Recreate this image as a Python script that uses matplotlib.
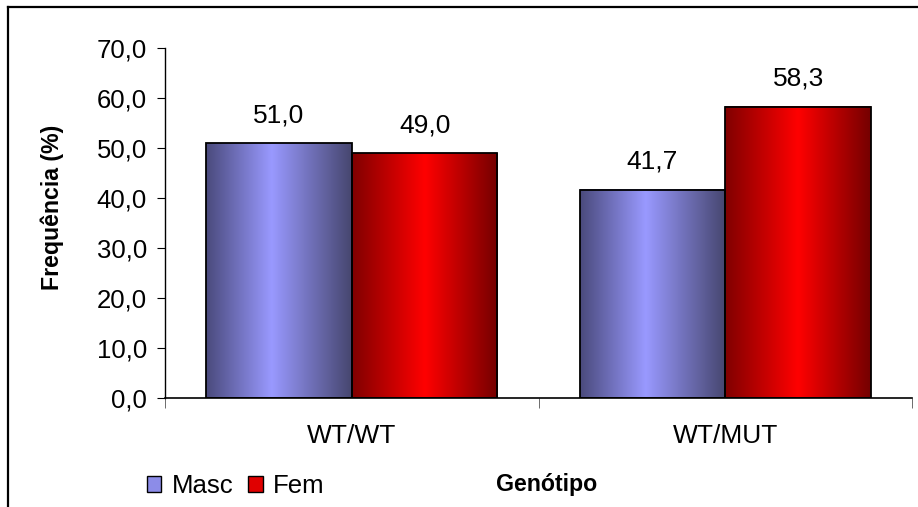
import numpy as np
import matplotlib
matplotlib.use("Agg")
import matplotlib.pyplot as plt
from matplotlib.colors import LinearSegmentedColormap
from matplotlib.patches import Patch
from matplotlib.ticker import FuncFormatter, FixedLocator

# ---------- DATA ----------
genotypes = ["WT/WT", "WT/MUT"]
masc = [51.0, 41.7]
fem = [49.0, 58.3]
series_names = ["Masc", "Fem"]

# ---------- STYLE ----------
plt.rcParams['font.family'] = ['Liberation Sans', 'DejaVu Sans']
FS = 19
FS_TICK = 18.5
FS_BOLD = 16.7
BAR_W = 0.39

masc_cmap = LinearSegmentedColormap.from_list(
    "masc", [(0.0, "#4a4a7c"), (0.45, "#9999ff"), (1.0, "#46466f")])
fem_cmap = LinearSegmentedColormap.from_list(
    "fem", [(0.0, "#800000"), (0.5, "#ff0000"), (1.0, "#740000")])

fig = plt.figure(figsize=(9.18, 5.07), dpi=100)
ax = fig.add_axes([165 / 918, 1 - 398 / 507, (912 - 165) / 918, (398 - 48) / 507])

grad = np.linspace(0, 1, 256).reshape(1, -1)
x = np.arange(len(genotypes))

def grad_bars(xpos, vals, cmap):
    bars = ax.bar(xpos, vals, BAR_W, facecolor='none', edgecolor='black',
                  linewidth=1.3, zorder=3)
    for b in bars:
        x0, y0 = b.get_x(), b.get_y()
        w, h = b.get_width(), b.get_height()
        ax.imshow(grad, cmap=cmap, aspect='auto', extent=(x0, x0 + w, y0, y0 + h),
                  zorder=2, interpolation='bicubic')
    return bars

b1 = grad_bars(x - BAR_W / 2, masc, masc_cmap)
b2 = grad_bars(x + BAR_W / 2, fem, fem_cmap)

for bars in (b1, b2):
    for b in bars:
        v = b.get_height()
        ax.annotate(f"{v:.1f}".replace(".", ","),
                    (b.get_x() + b.get_width() / 2, v),
                    xytext=(0, 20), textcoords='offset points',
                    ha='center', va='center', fontsize=FS)

ax.set_xlim(-0.5, 1.5)
ax.set_ylim(0, 70)
ax.set_yticks(np.arange(0, 71, 10))
ax.yaxis.set_major_formatter(FuncFormatter(lambda v, p: f"{v:.1f}".replace(".", ",")))
ax.tick_params(axis='y', labelsize=FS_TICK, length=6, direction='out', pad=7)

ax.xaxis.set_major_locator(FixedLocator(x))
ax.set_xticklabels(genotypes, fontsize=FS)
ax.xaxis.set_minor_locator(FixedLocator([-0.5, 0.5, 1.5]))
ax.tick_params(axis='x', which='major', length=0, pad=19)
ax.tick_params(axis='x', which='minor', length=7, color='#555555')

for s in ('top', 'right'):
    ax.spines[s].set_visible(False)
ax.spines['bottom'].set_linewidth(1.2)
ax.spines['left'].set_linewidth(1.0)

fig.text(52 / 918, 1 - 207 / 507, "Frequência (%)", rotation=90, ha='center',
         va='center', fontsize=FS_BOLD, fontweight='bold')
fig.text(547 / 918, 1 - 485 / 507, "Genótipo", ha='center', va='center',
         fontsize=FS_BOLD, fontweight='bold')

handles = [Patch(facecolor="#8c8ce8", edgecolor='black'),
           Patch(facecolor="#e00000", edgecolor='black')]
fig.legend(handles, series_names, loc='center left',
           bbox_to_anchor=(147 / 918, 1 - 486 / 507), ncol=2, frameon=False,
           fontsize=18.5, handlelength=0.55, handleheight=0.55,
           handletextpad=0.4, columnspacing=0.6, borderaxespad=0,
           borderpad=0)

# outer frame (only left and top visible in the original crop)
fig.add_artist(plt.Line2D([8 / 918, 8 / 918], [0, 1 - 7 / 507], color='black',
                          linewidth=1.6, transform=fig.transFigure))
fig.add_artist(plt.Line2D([8 / 918, 1], [1 - 7 / 507, 1 - 7 / 507], color='black',
                          linewidth=1.6, transform=fig.transFigure))

fig.savefig("out.png", dpi=100)
